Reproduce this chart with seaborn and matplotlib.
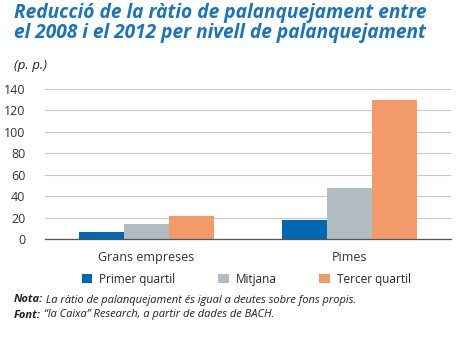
import matplotlib
matplotlib.use("Agg")
import matplotlib.pyplot as plt
import seaborn as sns
import pandas as pd
from matplotlib.patches import Patch

categories = ["Grans empreses", "Pimes"]
series = ["Primer quartil", "Mitjana", "Tercer quartil"]
primer_quartil = [6.5, 18]
mitjana = [14, 48]
tercer_quartil = [21.5, 130]
yticks = [0, 20, 40, 60, 80, 100, 120, 140]
colors = ["#0068b3", "#b1bdc2", "#f39a6a"]

rows = []
for i, c in enumerate(categories):
    for s, vals in zip(series, [primer_quartil, mitjana, tercer_quartil]):
        rows.append({"cat": c, "serie": s, "val": vals[i]})
df = pd.DataFrame(rows)

sns.set_theme(style="white")
plt.rcParams["font.family"] = ["Open Sans", "DejaVu Sans"]

fig = plt.figure(figsize=(4.69, 3.38), dpi=100)
ax = fig.add_axes([45/469, 99/338, 406/469, 150/338])
sns.barplot(data=df, x="cat", y="val", hue="serie", palette=colors,
            width=0.665, gap=0, saturation=1, ax=ax, legend=False, edgecolor="none")
ax.set_ylim(0, 140)
ax.set_xlim(-0.5, 1.5)
ax.set_yticks(yticks)
ax.set_yticklabels([str(t) for t in yticks], fontsize=9, color="#333333")
ax.yaxis.grid(True, color="#c8c8c8", linewidth=0.8)
ax.set_axisbelow(True)
for s in ["top", "right", "left"]:
    ax.spines[s].set_visible(False)
ax.spines["bottom"].set_color("#555555")
ax.spines["bottom"].set_linewidth(0.9)
ax.tick_params(axis="y", length=0, pad=14)
ax.set_xticks([-0.5, 0.5, 1.5])
ax.set_xticklabels(["", "", ""])
ax.tick_params(axis="x", length=4, direction="inout", color="#555555", width=0.8)
ax.set_xlabel("")
ax.set_ylabel("")
for i, c in enumerate(categories):
    ax.text(i, -11, c, ha="center", va="top", fontsize=9, color="#333333",
            transform=ax.transData)

handles = [Patch(facecolor=c, edgecolor="none") for c in colors]
fig.legend(handles, series, loc="center", bbox_to_anchor=(0.525, 1 - 279/338), ncol=3,
           frameon=False, fontsize=8.5, handlelength=0.9, handleheight=0.9,
           columnspacing=3.6, handletextpad=0.6)

fig.text(14/469, 1 - 23/338, "Reducció de la ràtio de palanquejament entre\nel 2008 i el 2012 per nivell de palanquejament",
         fontsize=13.8, fontweight="bold", fontstyle="italic", color="#1a74bb",
         va="center", ha="left", linespacing=0.95)
fig.text(14/469, 1 - 65/338, "(p. p.)", fontsize=9.5, fontstyle="italic", color="#222222", va="center")

t1 = fig.text(14/469, 1 - 300/338, "Nota:", fontsize=8, fontstyle="italic", fontweight="bold", color="#222222", va="center")
t2 = fig.text(14/469, 1 - 315/338, "Font:", fontsize=8, fontstyle="italic", fontweight="bold", color="#222222", va="center")
fig.canvas.draw()
r = fig.canvas.get_renderer()
for t, rest in [(t1, " La ràtio de palanquejament és igual a deutes sobre fons propis."),
                (t2, " \u201cla Caixa\u201d Research, a partir de dades de BACH.")]:
    bb = t.get_window_extent(r)
    fig.text(bb.x1 / fig.bbox.width, t.get_position()[1], rest, fontsize=8, fontstyle="italic",
             color="#222222", va="center")

fig.savefig("out.png", dpi=100)
